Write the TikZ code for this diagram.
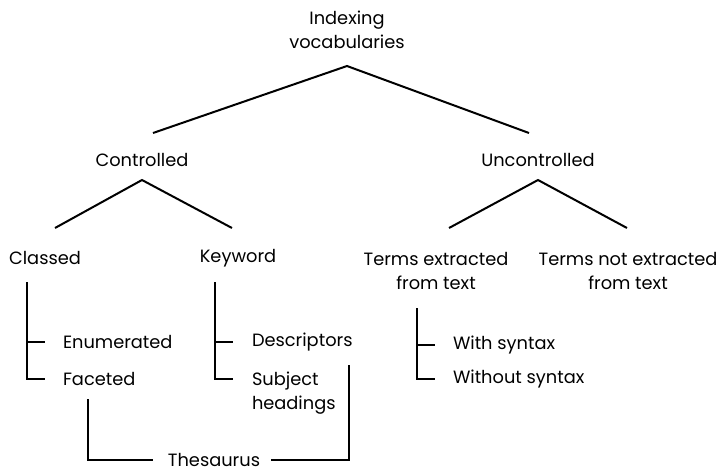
\documentclass[tikz,border=0pt]{standalone}
\usepackage{fontspec}
\setmainfont{Poppins}
\usepackage{tikz}
\usetikzlibrary{positioning}

\begin{document}
\begin{tikzpicture}[x=1pt,y=-1pt,line width=2pt,font=\fontsize{17.8}{24.5}\selectfont,
  lbl/.style={inner sep=0pt,align=center},
  leaf/.style={inner sep=0pt,anchor=west,align=left}]
  \useasboundingbox (0,0) rectangle (719,475);
  % labels
  \node[lbl] (idx) at (347,30) {Indexing\\vocabularies};
  \node[lbl] (ctl) at (142,160) {Controlled};
  \node[lbl] (unc) at (538,160) {Uncontrolled};
  \node[lbl] (cls) at (45,258) {Classed};
  \node[lbl] (kw) at (238,258) {Keyword};
  \node[lbl] (tex) at (436,271) {Terms extracted\\from text};
  \node[lbl] (tnx) at (628,271) {Terms not extracted\\from text};
  \node[leaf] (enu) at (62,342) {Enumerated};
  \node[leaf] (fac) at (62,379) {Faceted};
  \node[leaf] (des) at (251,342) {Descriptors};
  \node[leaf] (sub) at (251,393) {Subject\\headings};
  \node[leaf] (wsy) at (452,345) {With syntax};
  \node[leaf] (wos) at (452,379) {Without syntax};
  \node[lbl] (the) at (214,460) {Thesaurus};
  % tree joints
  \coordinate (idxA) at (347,66);
  \coordinate (ctlA) at (142,180);
  \coordinate (uncA) at (538,180);
  \draw (153,133)--(idxA)--(529,133);
  \draw (55,228)--(ctlA)--(232,228);
  \draw (449,228)--(uncA)--(627,228);
  % brackets
  \draw (27,282)--(27,379)--(45,379);
  \draw (27,342)--(45,342);
  \draw (215,282)--(215,379)--(233,379);
  \draw (215,342)--(233,342);
  \draw (417,308)--(417,379)--(435,379);
  \draw (417,345)--(435,345);
  \draw (88,399) |- ([xshift=-14pt]the.west);
  \draw ([xshift=10pt]the.east) -| (349,365);
\end{tikzpicture}
\end{document}
